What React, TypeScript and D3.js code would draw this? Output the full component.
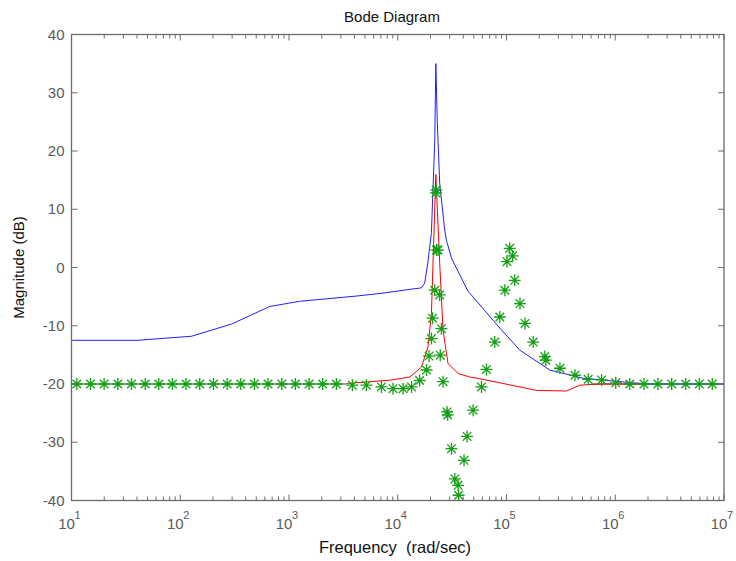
import React from "react";
import * as d3 from "d3";

// Blue curve (rad/sec, dB)
const blueFreq = [10, 40, 127, 297, 663, 1253, 4200, 7280, 12900, 16500, 17700, 18900, 20400, 21900, 22400, 23100, 24300, 27000, 28000, 31200, 44000, 86800, 132700, 250000, 504000, 1450000, 2080000, 10000000];
const blueDb = [-12.5, -12.5, -11.8, -9.7, -6.7, -5.8, -4.9, -4.4, -3.75, -3.5, -2.7, 0.8, 6, 21.9, 35, 25, 14.5, 6.5, 4.7, 1.6, -4.0, -10.4, -14.2, -17.6, -19.0, -19.8, -20, -20];

// Red curve
const redFreq = [3400, 8440, 12900, 16500, 19000, 20400, 21100, 22400, 24300, 26100, 29000, 35900, 45900, 56800, 92400, 189000, 356000, 473000, 722000, 1870000];
const redDb = [-19.9, -19.35, -18.8, -17.1, -13.6, -7.9, 0.8, 16, 0.8, -10.75, -16.5, -18.2, -18.8, -19.1, -19.9, -21.1, -21.2, -20.2, -20.0, -20.0];

// Dark flat line segments at -20 dB
const flatLow = [10, 3400];
const flatHigh = [600000, 10000000];
const flatDb = -20;

// Green star markers
const starFreq = [11.2, 14.96, 19.95, 26.7, 35.6, 47.6, 63.5, 84.8, 113, 151, 202, 270, 360, 481, 642, 858, 1145, 1530, 2040, 2730,
  3830, 5150, 7080, 9050, 11200, 13400, 15900, 18400, 19400, 20400, 20900, 21900, 22700, 22600, 22500, 23500, 24300, 25200, 24600, 26100,
  28400, 28800, 31200, 33500, 35900, 36300, 40700, 43400, 49300, 58900, 65500, 78000, 86800, 96500, 101000, 107000, 114000, 119000, 133000, 148000,
  176000, 225000, 230000, 310000, 426000, 564000, 749000, 1010000, 1360000, 1840000, 2470000, 3300000, 4440000, 5930000, 7800000];
const starDb = [-20, -20, -20, -20, -20, -20, -20, -20, -20, -20, -20, -20, -20, -20, -20, -20, -20, -20, -20, -20,
  -20.2, -20.2, -20.5, -20.8, -20.8, -20.5, -19.4, -17.6, -15.2, -12.2, -8.7, -3.9, 3.0, 13.3, 12.8, 3.0, -4.7, -10.5, -15.05, -19.6,
  -24.8, -25.3, -31.1, -36.3, -37.4, -39.1, -33.1, -29.0, -24.5, -20.5, -17.5, -12.8, -8.5, -3.9, 1.0, 3.3, 2.0, -2.2, -6.2, -9.6,
  -12.8, -15.3, -15.9, -17.3, -18.5, -19.2, -19.3, -19.8, -20, -20, -20, -20, -20, -20, -20];

const yTicks = [-40, -30, -20, -10, 0, 10, 20, 30, 40];
const xDecades = [1, 2, 3, 4, 5, 6, 7];

const W = 736, H = 561;
const L = 71.5, R = 724, T = 34.5, B = 500.5;

export default function App() {
  const x = d3.scaleLog().domain([10, 1e7]).range([L, R]);
  const y = d3.scaleLinear().domain([-40, 40]).range([B, T]);
  const line = d3.line<[number, number]>().x(d => x(d[0])).y(d => y(d[1]));
  const blue = blueFreq.map((f, i) => [f, blueDb[i]] as [number, number]);
  const red = redFreq.map((f, i) => [f, redDb[i]] as [number, number]);
  const minor: number[] = [];
  for (let e = 1; e < 7; e++) for (let m = 2; m <= 9; m++) minor.push(m * Math.pow(10, e));
  const axisCol = "#6b6b6b";
  const textCol = "#5a5a5a";
  const star = "M-6,0H6M0,-6V6M-4.3,-4.3L4.3,4.3M-4.3,4.3L4.3,-4.3";
  return (
    <div style={{ position: "fixed", left: 0, top: 0 }}>
      <svg width={W} height={H} style={{ display: "block", background: "#fff" }} fontFamily="'Liberation Sans', Arial, sans-serif">
        <text x={392} y={22} textAnchor="middle" fontSize={15} fill="#111">Bode Diagram</text>
        {/* lines */}
        <path d={line([[flatLow[0], flatDb], [flatLow[1], flatDb]])!} stroke="#145a14" strokeWidth={1.2} fill="none" />
        <path d={line([[flatHigh[0], flatDb], [flatHigh[1], flatDb]])!} stroke="#145a14" strokeWidth={1.2} fill="none" />
        <path d={line(blue)!} stroke="#2020ff" strokeWidth={1} fill="none" />
        <path d={line(red)!} stroke="#ff0000" strokeWidth={1} fill="none" />
        {starFreq.map((f, i) => (
          <path key={i} d={star} transform={`translate(${x(f)},${y(starDb[i])})`} stroke="#14a014" strokeWidth={1.3} fill="none" />
        ))}
        {/* box */}
        <rect x={L} y={T} width={R - L} height={B - T} fill="none" stroke={axisCol} strokeWidth={1.3} />
        {/* y ticks */}
        {yTicks.map(t => (
          <g key={t}>
            <line x1={L} x2={L + 6} y1={y(t)} y2={y(t)} stroke={axisCol} />
            <line x1={R} x2={R - 6} y1={y(t)} y2={y(t)} stroke={axisCol} />
            <text x={L - 7} y={y(t) + 5} textAnchor="end" fontSize={15} fill={textCol}>{t}</text>
          </g>
        ))}
        {/* x ticks */}
        {minor.map((m, i) => (
          <g key={i}>
            <line x1={x(m)} x2={x(m)} y1={B} y2={B - 4} stroke={axisCol} />
            <line x1={x(m)} x2={x(m)} y1={T} y2={T + 4} stroke={axisCol} />
          </g>
        ))}
        {xDecades.map(e => (
          <g key={e}>
            <line x1={x(Math.pow(10, e))} x2={x(Math.pow(10, e))} y1={B} y2={B - 6} stroke={axisCol} />
            <line x1={x(Math.pow(10, e))} x2={x(Math.pow(10, e))} y1={T} y2={T + 6} stroke={axisCol} />
            <text x={x(Math.pow(10, e)) - 5} y={529} textAnchor="middle" fontSize={15} fill={textCol}>10</text>
            <text x={x(Math.pow(10, e)) + 3} y={519} textAnchor="start" fontSize={11} fill={textCol}>{e}</text>
          </g>
        ))}
        <text x={395} y={553} textAnchor="middle" fontSize={16.5} fill="#111" style={{ whiteSpace: "pre" }}>{"Frequency  (rad/sec)"}</text>
        <text transform={`translate(24,${(T + B) / 2}) rotate(-90)`} textAnchor="middle" fontSize={15} fill="#111">Magnitude (dB)</text>
      </svg>
    </div>
  );
}
